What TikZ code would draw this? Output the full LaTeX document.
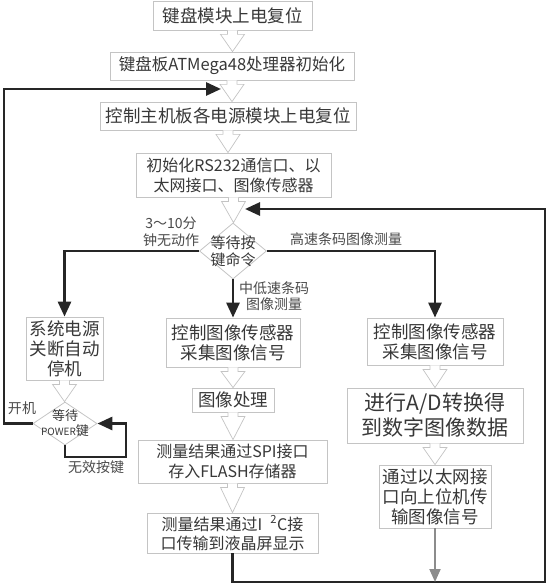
\documentclass[tikz,border=0pt]{standalone}
\usepackage{fontspec}
\setmainfont{Noto Sans CJK SC}
\usetikzlibrary{arrows.meta,shapes.geometric,calc}
\definecolor{boxgray}{HTML}{C4C4C4}
\definecolor{txt}{HTML}{383838}
\definecolor{dark}{HTML}{262626}
\definecolor{lab}{HTML}{4A4A4A}
\definecolor{garrow}{HTML}{8C8C8C}
\newcommand{\hollowarrow}[2]{%
  \draw[hollow] let \p1=(#1.south), \p2=(#2.north) in
    (\x1-5pt,\y1) -- (\x1-5pt,\y1-4pt) -- (\x1-12pt,\y1-4pt) -- (\x1,\y2)
    -- (\x1+12pt,\y1-4pt) -- (\x1+5pt,\y1-4pt) -- (\x1+5pt,\y1);}
\begin{document}
\begin{tikzpicture}[x=1pt,y=-1pt,
  bx/.style={draw=boxgray, line width=0.8pt, fill=white, inner sep=1pt, align=center, text=txt, font=\fontsize{17.5}{20}\selectfont},
  dia/.style={draw=boxgray, line width=0.8pt, diamond, inner sep=0pt},
  dtext/.style={text=txt, align=center, inner sep=0pt, font=\fontsize{15}{17}\selectfont},
  lbl/.style={text=lab, align=center, inner sep=0pt, font=\fontsize{14}{17}\selectfont},
  flow/.style={draw=dark, line width=2.8pt, -{Triangle[length=15pt,width=13pt]}},
  gflow/.style={draw=garrow, line width=2pt, -{Triangle[length=13pt,width=11pt]}},
  hollow/.style={draw=boxgray, line width=0.7pt, fill=white}]
\useasboundingbox[fill=white] (0,0) rectangle (550,585);

% main column
\node[bx, minimum width=159pt, minimum height=29pt] (b1) at (232.5,15.5) {键盘模块上电复位};
\node[bx, minimum width=244pt, minimum height=28pt, font=\fontsize{16.5}{20}\selectfont] (b2) at (232,66) {键盘板ATMega48处理器初始化};
\node[bx, minimum width=256pt, minimum height=28pt] (b3) at (228,116) {控制主机板各电源模块上电复位};
\node[bx, minimum width=195pt, minimum height=44pt, font=\fontsize{16}{20}\selectfont] (b4) at (233.5,175) {初始化RS232通信口、以\\太网接口、图像传感器};
\node[dia, minimum width=67pt, minimum height=56pt] (d1) at (233,251) {};
\node[dtext] (d1t) at (d1) {等待按\\键命令};

% left column
\node[bx, minimum width=77pt, minimum height=63pt] (L1) at (64.5,348.5) {系统电源\\关断自动\\停机};
\node[dia, minimum width=64pt, minimum height=43pt] (d2) at (65,423.5) {};
\node[dtext, font=\fontsize{13}{15}\selectfont] (d2t) at (d2) {等待\\{\fontsize{10}{12}\selectfont POWER}键};

% middle column
\node[bx, minimum width=134pt, minimum height=49pt] (M1) at (233,342.5) {控制图像传感器\\采集图像信号};
\node[bx, minimum width=82pt, minimum height=24pt] (M2) at (233,400) {图像处理};
\node[bx, minimum width=189pt, minimum height=43pt, font=\fontsize{16}{20}\selectfont] (M3) at (232.5,461.5) {测量结果通过SPI接口\\存入FLASH存储器};
\node[bx, minimum width=171pt, minimum height=40pt, font=\fontsize{16}{19}\selectfont] (M4) at (232.5,533) {测量结果通过I\hspace{0.5em}\textsuperscript{2}C接\\口传输到液晶屏显示};

% right column
\node[bx, minimum width=136pt, minimum height=47pt] (R1) at (435,341.5) {控制图像传感器\\采集图像信号};
\node[bx, minimum width=176pt, minimum height=55pt, font=\fontsize{21}{25}\selectfont] (R2) at (435,415.5) {进行A/D转换得\\到数字图像数据};
\node[bx, minimum width=112pt, minimum height=63pt] (R3) at (435,496.5) {通过以太网接\\口向上位机传\\输图像信号};

% hollow arrows
\hollowarrow{b1}{b2}
\hollowarrow{b2}{b3}
\hollowarrow{b3}{b4}
\hollowarrow{b4}{d1}
\hollowarrow{L1}{d2}
\hollowarrow{M1}{M2}
\hollowarrow{M2}{M3}
\hollowarrow{M3}{M4}
\hollowarrow{R1}{R2}
\hollowarrow{R2}{R3}

% coordinates for loops
\coordinate (fbx) at (4,0);
\coordinate (in2) at (221,89);
\coordinate (sl) at (126,457);
\coordinate (br) at (545,582);
\coordinate (in4) at (245,209);

% thick connectors
\draw[flow] (d1.west) -| (L1.north);
\draw[flow] (d1.east) -| (R1.north);
\draw[flow] (d1.south) -- (M1.north);
\draw[flow] (d2.west) -- (d2.west -| fbx) |- (in2);
\draw[flow] (d2.south) |- (sl) |- (d2.east);
\draw[flow] (M4.south) |- (br) |- (in4);
\draw[gflow] (R3.south) -- (R3.south |- br);

% labels
\node[lbl] (t1) at (171,232) {3～10分\\钟无动作};
\node[lbl] (t2) at (346,239) {高速条码图像测量};
\node[lbl, font=\fontsize{14}{16}\selectfont] (t3) at (274,296) {中低速条码\\图像测量};
\node[lbl] (t4) at (22,408) {开机};
\node[lbl] (t5) at (96,467) {无效按键};
\end{tikzpicture}
\end{document}
